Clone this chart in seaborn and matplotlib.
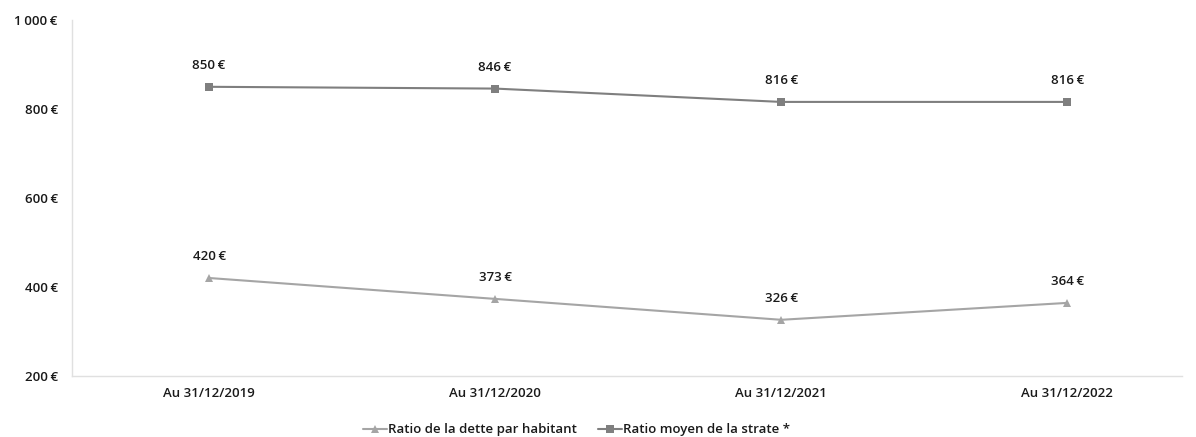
import matplotlib
matplotlib.use("Agg")
import matplotlib.pyplot as plt
import seaborn as sns
import pandas as pd

categories = ["Au 31/12/2019", "Au 31/12/2020", "Au 31/12/2021", "Au 31/12/2022"]
dette_habitant = [420, 373, 326, 364]
moyenne_strate = [850, 846, 816, 816]
series_names = ["Ratio de la dette par habitant", "Ratio moyen de la strate *"]
y_ticks = [200, 400, 600, 800, 1000]

sns.set_theme(style="white")
plt.rcParams["font.family"] = ["Open Sans", "DejaVu Sans"]

TXT = dict(fontsize=9.5, color="#1a1a1a", fontweight="semibold")

df = pd.DataFrame({
    "date": categories * 2,
    "valeur": dette_habitant + moyenne_strate,
    "serie": [series_names[0]] * 4 + [series_names[1]] * 4,
})
df["x"] = list(range(4)) * 2

fig = plt.figure(figsize=(11.96, 4.37), dpi=100)
ax = fig.add_axes([0.060, 0.140, 0.928, 0.814])

colors = {series_names[0]: "#a5a5a5", series_names[1]: "#7f7f7f"}
markers = {series_names[0]: "^", series_names[1]: "s"}

sns.lineplot(data=df, x="x", y="valeur", hue="serie", style="serie",
             palette=colors, markers=markers, dashes=False, markersize=6,
             linewidth=1.5, markeredgewidth=0, ax=ax, legend=True)


def fmt(v):
    return f"{v:,}".replace(",", "\u2009") + "\u2009€"


for vals in (dette_habitant, moyenne_strate):
    for i, v in enumerate(vals):
        ax.annotate(fmt(v), (i, v), xytext=(0, 15.5), textcoords="offset points",
                    ha="center", va="center", **TXT)

ax.set_xlim(-0.48, 3.4)
ax.set_ylim(200, 1000)
ax.set_yticks(y_ticks)
ax.set_yticklabels([fmt(t) for t in y_ticks], **TXT)
ax.set_xticks(range(4))
ax.set_xticklabels(categories, **TXT)
ax.set_xlabel("")
ax.set_ylabel("")
ax.tick_params(axis="y", length=0, pad=10)
ax.tick_params(axis="x", length=0, pad=8)

for side in ("top", "right"):
    ax.spines[side].set_visible(False)
for side in ("left", "bottom"):
    ax.spines[side].set_color("#e0e0e0")
    ax.spines[side].set_linewidth(1.0)

handles, labels = ax.get_legend_handles_labels()
ax.legend(handles, labels, loc="upper center", bbox_to_anchor=(0.455, -0.1),
          ncol=2, frameon=False, handlelength=1.8,
          handletextpad=0.1, columnspacing=1.6,
          prop={"size": 9.5, "weight": "semibold"}, labelcolor="#1a1a1a")

fig.savefig("out.png", dpi=100, facecolor="white")
